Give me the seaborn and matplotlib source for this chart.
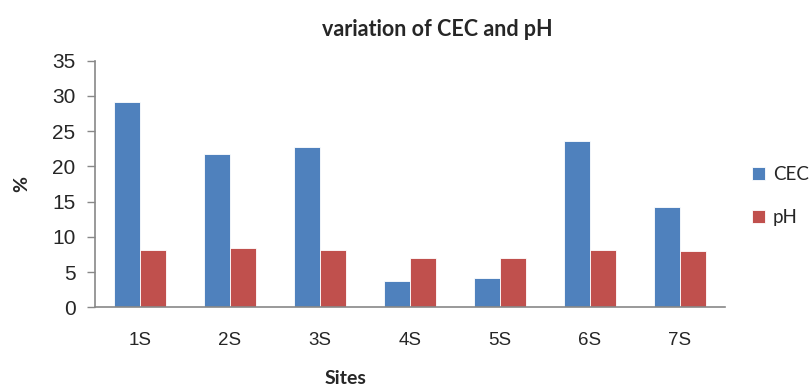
import matplotlib
matplotlib.use("Agg")
import matplotlib.pyplot as plt
import seaborn as sns
import pandas as pd

sites = ["1S", "2S", "3S", "4S", "5S", "6S", "7S"]
cec = [29.1, 21.7, 22.7, 3.7, 4.1, 23.6, 14.3]
ph = [8.2, 8.4, 8.2, 7.0, 7.0, 8.2, 7.95]
series = ["CEC", "pH"]
colors = ["#4F81BD", "#C0504D"]
yticks = [0, 5, 10, 15, 20, 25, 30, 35]

df = pd.DataFrame({
    "Sites": sites * 2,
    "value": cec + ph,
    "series": [series[0]] * len(sites) + [series[1]] * len(sites),
})

sns.set_style("white")
fig = plt.figure(figsize=(8.11, 3.89), dpi=100)
ax = fig.add_axes([0.117, 0.21, 0.777, 0.634])

sns.barplot(data=df, x="Sites", y="value", hue="series", order=sites,
            hue_order=series, palette=colors, width=0.573, ax=ax,
            saturation=1, edgecolor="white", linewidth=0.6)

ax.set_ylim(0, 35)
ax.set_xlim(-0.5, len(sites) - 0.5)
ax.set_yticks(yticks)
ax.set_yticklabels([str(t) for t in yticks], fontsize=15, family="Liberation Sans")
ax.set_xticks(range(len(sites)))
ax.set_xticklabels(sites, fontsize=13.5, family="Liberation Sans")
ax.tick_params(axis="y", direction="out", length=6, width=1, color="#888888", pad=8, left=True)
ax.tick_params(axis="x", length=0, pad=18)

for s in ["top", "right"]:
    ax.spines[s].set_visible(False)
for s in ["left", "bottom"]:
    ax.spines[s].set_color("#888888")
    ax.spines[s].set_linewidth(1.2)

ax.set_xlabel("Sites", fontsize=14, fontweight="bold", family="Lato")
ax.xaxis.set_label_coords(0.397, -0.255)
ax.xaxis.label.set_verticalalignment("top")
ax.set_ylabel("%", fontsize=14, fontweight="bold", family="Lato", labelpad=16)
ax.set_title("variation of CEC and pH", fontsize=15.5, fontweight="bold", family="Lato",
             x=0.543, pad=18)

leg = ax.legend(loc="center left", bbox_to_anchor=(1.022, 0.45), frameon=False,
                prop={"family": "Lato", "size": 13.5}, labelspacing=1.4,
                handlelength=0.7, handleheight=0.7, handletextpad=0.4,
                borderaxespad=0.3)

fig.savefig("out.png", dpi=100)
